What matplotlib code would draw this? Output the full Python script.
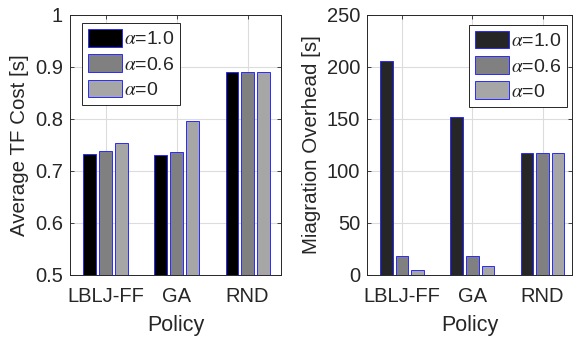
import numpy as np
import matplotlib
matplotlib.use("Agg")
import matplotlib.pyplot as plt

policies = ["LBLJ-FF", "GA", "RND"]
alpha_labels = [r"$\alpha$=1.0", r"$\alpha$=0.6", r"$\alpha$=0"]

tf_cost = [
    [0.733, 0.731, 0.890],   # alpha=1.0
    [0.739, 0.736, 0.890],   # alpha=0.6
    [0.754, 0.796, 0.890],   # alpha=0
]
mig_overhead = [
    [206.0, 151.5, 117.5],
    [18.0, 18.0, 117.5],
    [4.5, 9.0, 117.5],
]

plt.rcParams["font.family"] = ["Liberation Sans", "DejaVu Sans"]
plt.rcParams["mathtext.fontset"] = "stix"

TXT = "#262626"
EDGE = "#2a2aff"


def draw(ax, data, colors, ylim, yticks, ylabel, xlim, leg_loc, leg_anchor):
    x = np.arange(1, len(policies) + 1)
    offsets = [-0.222, 0.0, 0.222]
    for vals, off, col, lab in zip(data, offsets, colors, alpha_labels):
        ax.bar(x + off, vals, width=0.178, color=col, edgecolor=EDGE,
               linewidth=0.7, label=lab, zorder=3)
    ax.set_xlim(*xlim)
    ax.set_ylim(*ylim)
    ax.set_yticks(yticks)
    ax.set_xticks(x)
    ax.set_xticklabels(policies)
    ax.set_ylabel(ylabel, fontsize=14.8, color=TXT, labelpad=4)
    ax.set_xlabel("Policy", fontsize=15.5, color=TXT, labelpad=6)
    ax.grid(True, color="#dcdcdc", linewidth=0.8, zorder=0)
    ax.set_axisbelow(True)
    ax.tick_params(direction="in", length=3, width=0.6, labelsize=14.5,
                   colors=TXT, top=True, right=True)
    ax.tick_params(axis="x", pad=9)
    ax.tick_params(axis="y", pad=5)
    for s in ax.spines.values():
        s.set_color(TXT)
        s.set_linewidth(0.7)
    leg = ax.legend(loc=leg_loc, bbox_to_anchor=leg_anchor, fontsize=14,
                    handlelength=1.75, handleheight=1.03, labelspacing=0.3,
                    handletextpad=0.1, borderpad=0.3, borderaxespad=0,
                    fancybox=False, framealpha=1, edgecolor=TXT)
    leg.get_frame().set_linewidth(0.7)
    for t in leg.get_texts():
        t.set_color(TXT)


fig = plt.figure(figsize=(5.74, 3.37), dpi=100)
ax1 = fig.add_axes([70 / 574, 1 - 275 / 337, 211 / 574, 260 / 337])
ax2 = fig.add_axes([367 / 574, 1 - 275 / 337, 205 / 574, 260 / 337])

draw(ax1, tf_cost, ["#000000", "#808080", "#a6a6a6"], (0.5, 1.0),
     [0.5, 0.6, 0.7, 0.8, 0.9, 1.0], "Average TF Cost [s]", (0.5, 3.47),
     "upper left", (0.057, 0.969))
ax1.set_yticklabels(["0.5", "0.6", "0.7", "0.8", "0.9", "1"])

draw(ax2, mig_overhead, ["#262626", "#808080", "#a6a6a6"], (0, 250),
     [0, 50, 100, 150, 200, 250], "Miagration Overhead [s]", (0.5, 3.42),
     "upper right", (0.976, 0.962))

fig.savefig("out.png", dpi=100)
